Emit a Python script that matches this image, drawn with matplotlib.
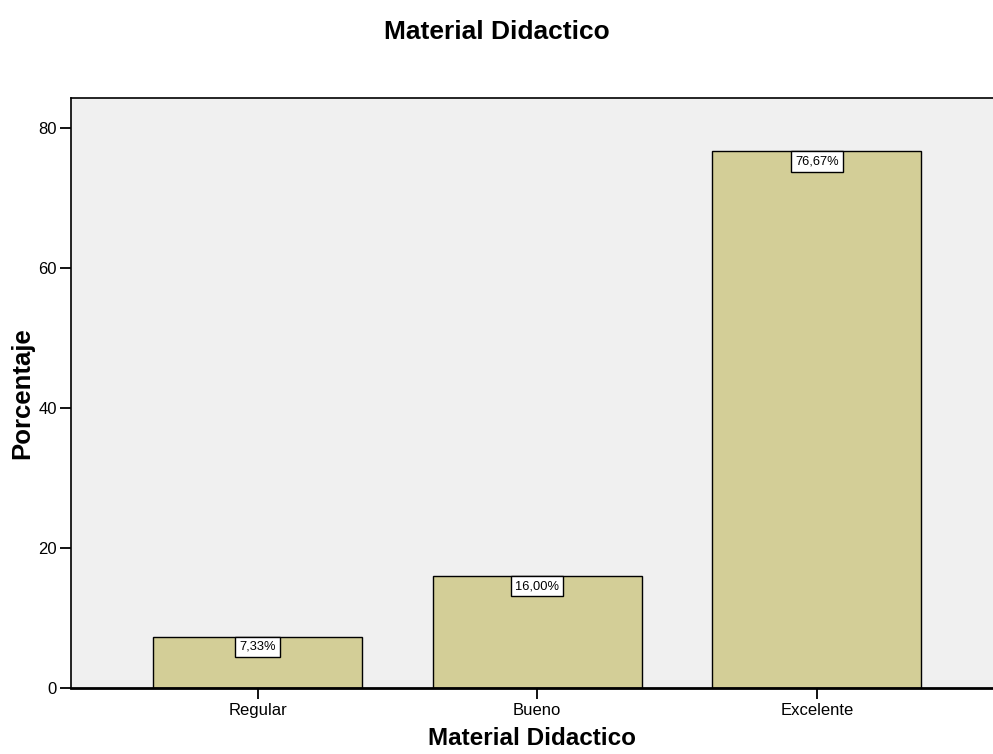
"""Material Didactico bar chart."""
import matplotlib
matplotlib.use("Agg")
import matplotlib.pyplot as plt

categorias = ["Regular", "Bueno", "Excelente"]
porcentajes = [7.33, 16.00, 76.67]
etiquetas = ["7,33%", "16,00%", "76,67%"]
yticks = [0, 20, 40, 60, 80]

plt.rcParams["font.family"] = ["Liberation Sans", "DejaVu Sans"]

fig = plt.figure(figsize=(9.93, 7.54), dpi=100)
ax = fig.add_axes([71 / 993, 66 / 754, 1 - 71 / 993, (688 - 98) / 754])
ax.set_facecolor("#f0f0f0")

pos = list(range(len(categorias)))
bars = ax.bar(
    pos,
    porcentajes,
    width=0.748,
    color="#d3ce97",
    edgecolor="black",
    linewidth=1.0,
    zorder=2,
)

for b, txt in zip(bars, etiquetas):
    ax.annotate(
        txt,
        xy=(b.get_x() + b.get_width() / 2, b.get_height()),
        xytext=(0, -3.0),
        textcoords="offset points",
        ha="center",
        va="top",
        fontsize=9.3,
        bbox=dict(boxstyle="square,pad=0.32", fc="white", ec="black", lw=1.0),
        zorder=3,
    )

ax.set_xlim(-0.667, 2.63)
ax.set_ylim(0, 84.29)
ax.set_xticks(pos)
ax.set_xticklabels(categorias)
ax.set_yticks(yticks)

ax.tick_params(axis="both", labelsize=12, length=8, width=1.3, direction="out")
ax.tick_params(axis="y", pad=2)
ax.tick_params(axis="x", pad=3)

ax.spines["right"].set_visible(False)
ax.spines["top"].set_linewidth(1.2)
ax.spines["left"].set_linewidth(1.2)
ax.spines["bottom"].set_linewidth(2.0)

ax.set_xlabel("Material Didactico", fontsize=17.5, fontweight="bold", labelpad=6)
ax.set_ylabel("Porcentaje", fontsize=18.5, fontweight="bold", va="center")
ax.yaxis.set_label_coords((22 - 71) / 922, 0.5)
fig.text(0.5, 1 - 32 / 754, "Material Didactico", ha="center", va="center",
         fontsize=19, fontweight="bold")

fig.savefig("out.png", dpi=100)
